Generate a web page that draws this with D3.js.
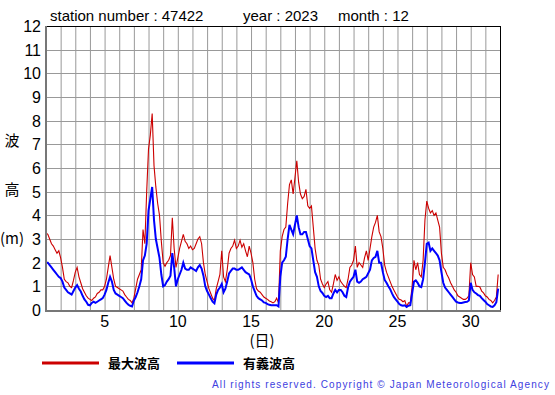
<!DOCTYPE html>
<html>
<head>
<meta charset="utf-8">
<script src="https://cdn.jsdelivr.net/npm/d3@7"></script>
<style>
  body { margin: 0; background: #fff; }
  svg { display: block; font-family: "Liberation Sans", Arial, sans-serif; }
</style>
</head>
<body>
<div id="chart"></div>
<script>
// 3-hourly readings starting at day 1 00:00
const startDay = 1;
const stepDay = 1 / 8;

const maxWave = [
  3.25, 3.2, 3.0, 2.8, 2.7, 2.55, 2.4, 2.5,
  2.2, 1.8, 1.3, 1.2, 1.15, 1.0, 0.95, 1.25,
  1.6, 1.8, 1.4, 1.15, 0.9, 0.75, 0.6, 0.5,
  0.45, 0.4, 0.5, 0.55, 0.7, 0.75, 0.85, 0.85,
  1.0, 1.3, 1.8, 2.3, 1.8, 1.3, 1.0, 0.95,
  0.9, 0.85, 0.8, 0.65, 0.55, 0.45, 0.4, 0.3,
  0.5, 0.9, 1.3, 1.5, 1.7, 3.4, 2.8, 5.0,
  6.8, 7.4, 8.3, 6.1, 5.2, 4.5, 4.0, 2.9,
  2.0, 1.85, 2.0, 2.1, 2.3, 3.9, 2.6, 1.8,
  2.2, 2.6, 2.9, 3.2, 2.9, 2.8, 2.6, 2.7,
  2.55, 2.6, 2.8, 3.0, 3.1, 2.8, 2.0, 1.5,
  1.2, 0.9, 0.7, 0.5, 0.4, 0.9, 1.2, 1.5,
  2.5, 1.4, 1.2, 1.7, 2.4, 2.6, 2.7, 2.95,
  2.6, 2.7, 2.95, 2.65, 2.8, 2.5, 2.25, 2.7,
  2.4, 2.0, 1.3, 0.9, 0.8, 0.75, 0.65, 0.55,
  0.5, 0.45, 0.38, 0.35, 0.3, 0.35, 0.5, 0.3,
  2.5, 3.1, 3.4, 3.5, 4.5, 5.3, 5.5, 4.9,
  5.6, 6.3, 5.4, 4.9, 4.7, 4.8, 5.1, 4.4,
  4.3, 4.4, 3.5, 2.6, 2.1, 1.9, 1.3, 1.1,
  0.95, 1.1, 1.2, 0.85, 0.75, 1.1, 1.5, 1.25,
  1.4, 1.2, 1.1, 1.0, 0.95, 1.3, 1.8, 1.9,
  2.1, 2.7, 1.8, 2.0, 1.9, 1.8, 2.2, 2.5,
  2.1, 2.6, 3.1, 3.5, 3.7, 4.0, 3.3, 3.1,
  2.6, 1.9, 1.6, 1.4, 1.2, 1.0, 0.85, 0.7,
  0.55, 0.45, 0.42, 0.35, 0.4, 0.15, 0.3, 0.3,
  1.0, 2.1, 1.7, 2.0, 1.5, 1.4, 2.1, 3.8,
  4.6, 4.3, 4.1, 4.2, 4.0, 4.1, 3.8, 3.5,
  2.4, 1.8, 1.7, 1.5, 1.35, 1.15, 1.0, 0.85,
  0.75, 0.6, 0.55, 0.5, 0.45, 0.45, 0.5, 0.6,
  2.0, 1.5, 1.4, 1.0, 1.0, 0.97, 0.8, 0.72,
  0.6, 0.55, 0.45, 0.4, 0.3, 0.4, 0.55, 1.5
];

const sigWave = [
  2.0, 2.0, 1.9, 1.8, 1.7, 1.6, 1.5, 1.4,
  1.35, 1.2, 0.95, 0.85, 0.75, 0.7, 0.65, 0.8,
  0.95, 1.05, 0.9, 0.78, 0.6, 0.45, 0.35, 0.22,
  0.2, 0.3, 0.35, 0.3, 0.35, 0.4, 0.45, 0.5,
  0.65, 0.85, 1.15, 1.4, 1.2, 0.85, 0.7, 0.65,
  0.6, 0.55, 0.5, 0.4, 0.3, 0.22, 0.18, 0.15,
  0.4, 0.55, 0.75, 1.0, 1.3, 2.1, 2.3, 2.8,
  4.2, 4.7, 5.2, 3.8, 3.0, 2.6, 2.2, 1.5,
  1.0, 1.05, 1.2, 1.3, 1.45, 2.4, 1.8, 1.0,
  1.3, 1.5, 1.7, 2.0, 1.75, 1.7, 1.7, 1.8,
  1.75, 1.7, 1.65, 1.8, 1.9, 1.75, 1.45, 1.0,
  0.8, 0.65, 0.5, 0.35, 0.28, 0.65, 0.85, 0.95,
  1.1, 0.75, 0.9, 1.2, 1.55, 1.65, 1.75, 1.75,
  1.7, 1.7, 1.75, 1.8, 1.7, 1.6, 1.55, 1.5,
  1.3, 1.0, 0.8, 0.6, 0.5, 0.45, 0.4, 0.32,
  0.3, 0.25, 0.22, 0.2, 0.2, 0.2, 0.2, 0.15,
  1.4, 2.0, 2.1, 2.25, 3.0, 3.6, 3.4, 3.2,
  3.6, 4.0, 3.5, 3.2, 3.2, 3.3, 3.3, 3.0,
  2.7, 2.6, 2.1, 1.6, 1.4, 1.0, 0.8, 0.72,
  0.6, 0.55, 0.6, 0.5, 0.5, 0.7, 0.85, 0.75,
  0.85, 0.85, 0.75, 0.6, 0.55, 0.95, 1.2, 1.3,
  1.4, 1.7, 1.2, 1.15, 1.2, 1.3, 1.35, 1.4,
  1.55, 1.7, 2.1, 2.2, 2.25, 2.5, 2.0, 2.0,
  1.6, 1.27, 1.15, 1.0, 0.88, 0.7, 0.55, 0.45,
  0.35, 0.25, 0.2, 0.18, 0.2, 0.13, 0.18, 0.2,
  0.7, 1.2, 1.25, 1.15, 1.0, 0.97, 1.3, 2.0,
  2.8, 2.85, 2.5, 2.6, 2.5, 2.4, 2.3, 2.1,
  1.6, 1.15, 0.95, 0.85, 0.75, 0.65, 0.55, 0.45,
  0.35, 0.32, 0.3, 0.3, 0.32, 0.34, 0.35, 0.4,
  1.15, 0.85, 0.75, 0.7, 0.63, 0.6, 0.5, 0.42,
  0.35, 0.25, 0.2, 0.15, 0.13, 0.2, 0.33, 0.9
];

const xTicks = [5, 10, 15, 20, 25, 30];
const yTicks = [0, 1, 2, 3, 4, 5, 6, 7, 8, 9, 10, 11, 12];
const titleParts = ["station number : 47422", "year : 2023", "month : 12"];
const legendItems = [
  { name: "最大波高", color: "#cc0000" },
  { name: "有義波高", color: "#0000ff" }
];

const width = 555;
const height = 395;
const margin = { top: 26, right: 55, bottom: 85, left: 46 };
const plotW = width - margin.left - margin.right;
const plotH = height - margin.top - margin.bottom;

const x = d3.scaleLinear().domain([1, 32]).range([0, plotW]);
const y = d3.scaleLinear().domain([0, 12]).range([plotH, 0]);

const svg = d3.select("#chart")
    .append("svg")
    .attr("width", width)
    .attr("height", height);

const g = svg.append("g")
    .attr("transform", `translate(${margin.left},${margin.top})`);

// grid
g.append("g")
    .selectAll("line")
    .data(d3.range(1, 33))
    .join("line")
    .attr("x1", d => x(d) + 0.5)
    .attr("x2", d => x(d) + 0.5)
    .attr("y1", 0)
    .attr("y2", plotH)
    .attr("stroke", "#999")
    .attr("stroke-width", 1);

g.append("g")
    .selectAll("line")
    .data(yTicks)
    .join("line")
    .attr("x1", 0)
    .attr("x2", plotW)
    .attr("y1", d => Math.round(y(d)) + 0.5)
    .attr("y2", d => Math.round(y(d)) + 0.5)
    .attr("stroke", "#999")
    .attr("stroke-width", 1);

// frame: black top / right, grey thick left / bottom
g.append("line").attr("x1", 0).attr("x2", plotW).attr("y1", 0.5).attr("y2", 0.5).attr("stroke", "#000");
g.append("line").attr("x1", plotW + 0.5).attr("x2", plotW + 0.5).attr("y1", 0).attr("y2", plotH).attr("stroke", "#000");

// series
const seriesLine = d3.line()
    .x((d, i) => x(startDay + i * stepDay))
    .y(d => y(d));

g.append("path")
    .datum(maxWave)
    .attr("fill", "none")
    .attr("stroke", legendItems[0].color)
    .attr("stroke-width", 1.1)
    .attr("d", seriesLine);

g.append("path")
    .datum(sigWave)
    .attr("fill", "none")
    .attr("stroke", legendItems[1].color)
    .attr("stroke-width", 2)
    .attr("d", seriesLine);

g.append("line").attr("x1", 0).attr("x2", 0).attr("y1", 0).attr("y2", plotH + 1)
    .attr("stroke", "#777").attr("stroke-width", 2);
g.append("line").attr("x1", -1).attr("x2", plotW + 1).attr("y1", plotH + 1).attr("y2", plotH + 1)
    .attr("stroke", "#777").attr("stroke-width", 2);

// axes labels
g.append("g")
    .selectAll("text")
    .data(yTicks)
    .join("text")
    .attr("x", -5)
    .attr("y", d => y(d) + 6)
    .attr("text-anchor", "end")
    .attr("font-size", 16)
    .attr("fill", "#000")
    .text(d => d);

g.append("g")
    .selectAll("text")
    .data(xTicks)
    .join("text")
    .attr("x", d => x(d))
    .attr("y", plotH + 17)
    .attr("text-anchor", "middle")
    .attr("font-size", 16)
    .attr("fill", "#000")
    .text(d => d);

svg.append("text")
    .attr("x", 262)
    .attr("y", 346)
    .attr("text-anchor", "middle")
    .attr("font-size", 15)
    .attr("font-family", "'Noto Sans CJK JP', sans-serif")
    .text("(日)");

const yLabel = [["波", 140], ["高", 189], ["(m)", 238]];
svg.append("g")
    .selectAll("text")
    .data(yLabel)
    .join("text")
    .attr("x", 12)
    .attr("y", d => d[1] + 6)
    .attr("text-anchor", "middle")
    .attr("font-size", 15)
    .attr("font-family", "'Noto Sans CJK JP', sans-serif")
    .text(d => d[0]);

// title
const titleX = [50, 243, 338];
svg.append("g")
    .selectAll("text")
    .data(titleParts)
    .join("text")
    .attr("x", (d, i) => titleX[i])
    .attr("y", 21)
    .attr("font-size", 15)
    .text(d => d);

// legend
const legend = svg.append("g").attr("transform", "translate(42,363)");
legendItems.forEach((item, i) => {
    const lg = legend.append("g").attr("transform", `translate(${i * 135},0)`);
    lg.append("line")
        .attr("x1", 0).attr("x2", 57)
        .attr("y1", 0).attr("y2", 0)
        .attr("stroke", item.color)
        .attr("stroke-width", 3);
    lg.append("text")
        .attr("x", 66)
        .attr("y", 5)
        .attr("font-size", 13)
        .attr("font-weight", "bold")
        .attr("font-family", "'Noto Sans CJK JP', sans-serif")
        .text(item.name);
});

svg.append("text")
    .attr("x", 550)
    .attr("y", 388)
    .attr("text-anchor", "end")
    .attr("font-size", 10)
    .attr("letter-spacing", 1.1)
    .attr("fill", "#4040e0")
    .text("All rights reserved. Copyright © Japan Meteorological Agency");
</script>
</body>
</html>
